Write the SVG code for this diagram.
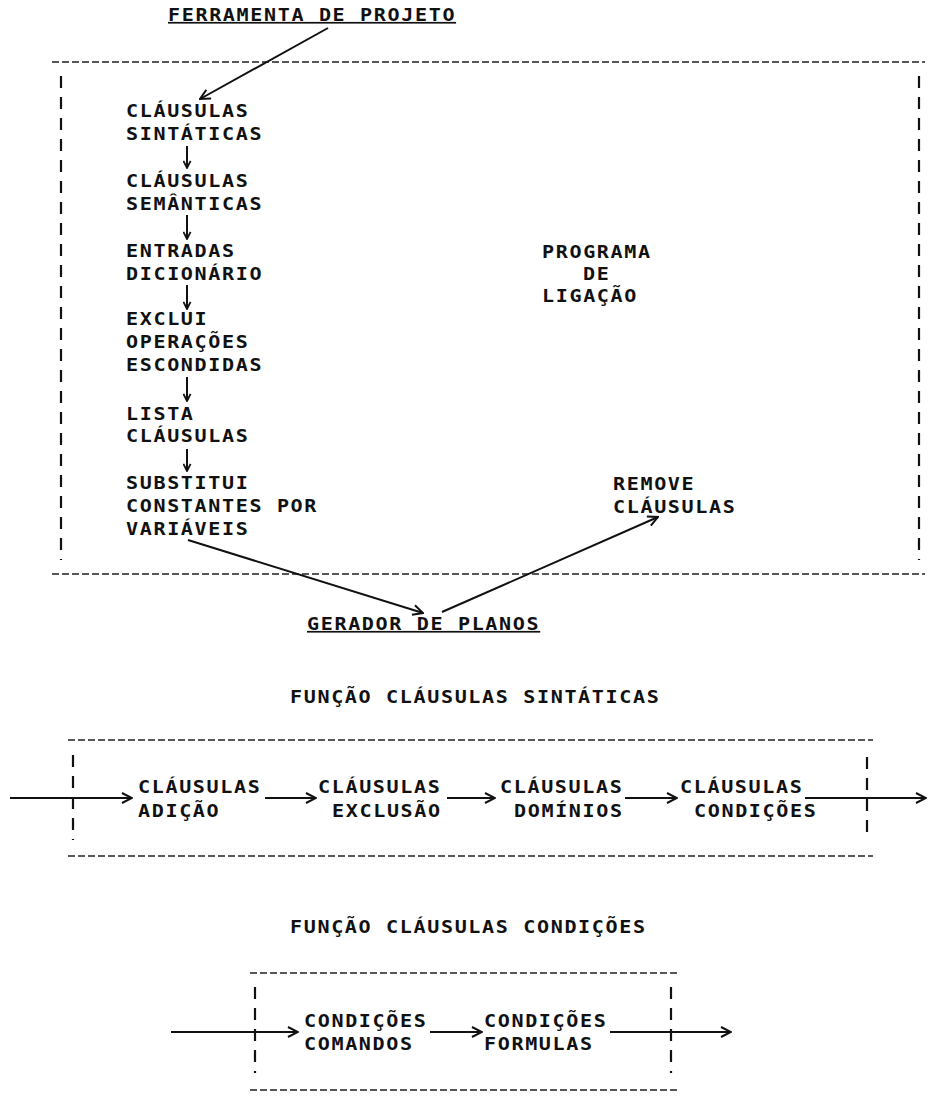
<svg xmlns="http://www.w3.org/2000/svg" width="928" height="1111" viewBox="0 0 928 1111">
<style>
  text { font-family: "DejaVu Sans Mono", "Liberation Mono", monospace; font-size: 17px; letter-spacing: 1.4px; fill: #111; font-weight: bold; transform-box: fill-box; transform-origin: 0 0; transform: scaleX(1.18); }
  .u { text-decoration: underline; }
  .hl { stroke: #222; stroke-width: 1.5; stroke-dasharray: 7 3; fill: none; }
  .vl { stroke: #111; stroke-width: 2.2; stroke-dasharray: 12 9; fill: none; }
  .ar { stroke: #111; stroke-width: 2; fill: none; marker-end: url(#ah); }
  .as { stroke: #111; stroke-width: 2; fill: none; marker-end: url(#ahs); }
</style>
<defs>
  <marker id="ah" viewBox="0 0 12 12" refX="11" refY="6" markerWidth="12" markerHeight="12" markerUnits="userSpaceOnUse" orient="auto">
    <path d="M1,1 L11,6 L1,11" fill="none" stroke="#111" stroke-width="2"/>
  </marker>
  <marker id="ahs" viewBox="0 0 10 10" refX="9" refY="5" markerWidth="9" markerHeight="9" markerUnits="userSpaceOnUse" orient="auto">
    <path d="M1,1 L9,5 L1,9" fill="none" stroke="#111" stroke-width="2"/>
  </marker>
</defs>

<g id="title">
  <text x="168" y="21" class="u">FERRAMENTA DE PROJETO</text>
</g>

<g id="box-programa-ligacao">
  <line class="hl" x1="52" y1="62" x2="925" y2="62"/>
  <line class="hl" x1="52" y1="574" x2="925" y2="574"/>
  <line class="vl" x1="61" y1="76" x2="61" y2="560"/>
  <line class="vl" x1="919" y1="76" x2="919" y2="560"/>
  <text x="542" y="258">PROGRAMA</text>
  <text x="583" y="280">DE</text>
  <text x="542" y="302">LIGAÇÃO</text>
</g>

<g id="n-clausulas-sintaticas"><text x="126" y="117">CLÁUSULAS</text><text x="126" y="140">SINTÁTICAS</text></g>
<g id="n-clausulas-semanticas"><text x="126" y="187">CLÁUSULAS</text><text x="126" y="210">SEMÂNTICAS</text></g>
<g id="n-entradas-dicionario"><text x="126" y="257">ENTRADAS</text><text x="126" y="280">DICIONÁRIO</text></g>
<g id="n-exclui-operacoes"><text x="126" y="325">EXCLUI</text><text x="126" y="348">OPERAÇÕES</text><text x="126" y="371">ESCONDIDAS</text></g>
<g id="n-lista-clausulas"><text x="126" y="420">LISTA</text><text x="126" y="442">CLÁUSULAS</text></g>
<g id="n-substitui"><text x="126" y="489">SUBSTITUI</text><text x="126" y="512">CONSTANTES POR</text><text x="126" y="535">VARIÁVEIS</text></g>
<g id="n-remove-clausulas"><text x="613" y="490">REMOVE</text><text x="613" y="513">CLÁUSULAS</text></g>
<g id="n-gerador"><text x="307" y="630" class="u">GERADOR DE PLANOS</text></g>

<g id="heading-sintaticas"><text x="290" y="703">FUNÇÃO CLÁUSULAS SINTÁTICAS</text></g>
<g id="box-sintaticas">
  <line class="hl" x1="68" y1="740" x2="873" y2="740"/>
  <line class="hl" x1="68" y1="856" x2="873" y2="856"/>
  <line class="vl" x1="73" y1="755" x2="73" y2="840"/>
  <line class="vl" x1="867" y1="757" x2="867" y2="840"/>
</g>
<g id="n-adicao"><text x="138" y="793">CLÁUSULAS</text><text x="138" y="817">ADIÇÃO</text></g>
<g id="n-exclusao"><text x="318" y="793">CLÁUSULAS</text><text x="332" y="817">EXCLUSÃO</text></g>
<g id="n-dominios"><text x="500" y="793">CLÁUSULAS</text><text x="514" y="817">DOMÍNIOS</text></g>
<g id="n-condicoes"><text x="680" y="793">CLÁUSULAS</text><text x="694" y="817">CONDIÇÕES</text></g>

<g id="heading-condicoes"><text x="290" y="933">FUNÇÃO CLÁUSULAS CONDIÇÕES</text></g>
<g id="box-condicoes">
  <line class="hl" x1="250" y1="973" x2="677" y2="973"/>
  <line class="hl" x1="250" y1="1090" x2="677" y2="1090"/>
  <line class="vl" x1="255" y1="987" x2="255" y2="1073"/>
  <line class="vl" x1="671" y1="987" x2="671" y2="1073"/>
</g>
<g id="n-cond-comandos"><text x="304" y="1027">CONDIÇÕES</text><text x="304" y="1050">COMANDOS</text></g>
<g id="n-cond-formulas"><text x="484" y="1027">CONDIÇÕES</text><text x="484" y="1050">FORMULAS</text></g>

<g id="connectors">
  <line class="ar" x1="328" y1="28" x2="200" y2="99"/>
  <line class="as" x1="187" y1="146" x2="187" y2="168"/>
  <line class="as" x1="187" y1="215" x2="187" y2="239"/>
  <line class="as" x1="187" y1="285" x2="187" y2="309"/>
  <line class="as" x1="187" y1="377" x2="187" y2="401"/>
  <line class="as" x1="187" y1="449" x2="187" y2="471"/>
  <line class="ar" x1="188" y1="540" x2="423" y2="613"/>
  <line class="ar" x1="442" y1="612" x2="658" y2="517"/>
  <line class="ar" x1="10" y1="798" x2="132" y2="798"/>
  <line class="ar" x1="265" y1="798" x2="316" y2="798"/>
  <line class="ar" x1="447" y1="798" x2="495" y2="798"/>
  <line class="ar" x1="625" y1="798" x2="677" y2="798"/>
  <line class="ar" x1="805" y1="798" x2="926" y2="798"/>
  <line class="ar" x1="171" y1="1032" x2="298" y2="1032"/>
  <line class="ar" x1="430" y1="1032" x2="482" y2="1032"/>
  <line class="ar" x1="610" y1="1032" x2="731" y2="1032"/>
</g>
</svg>
